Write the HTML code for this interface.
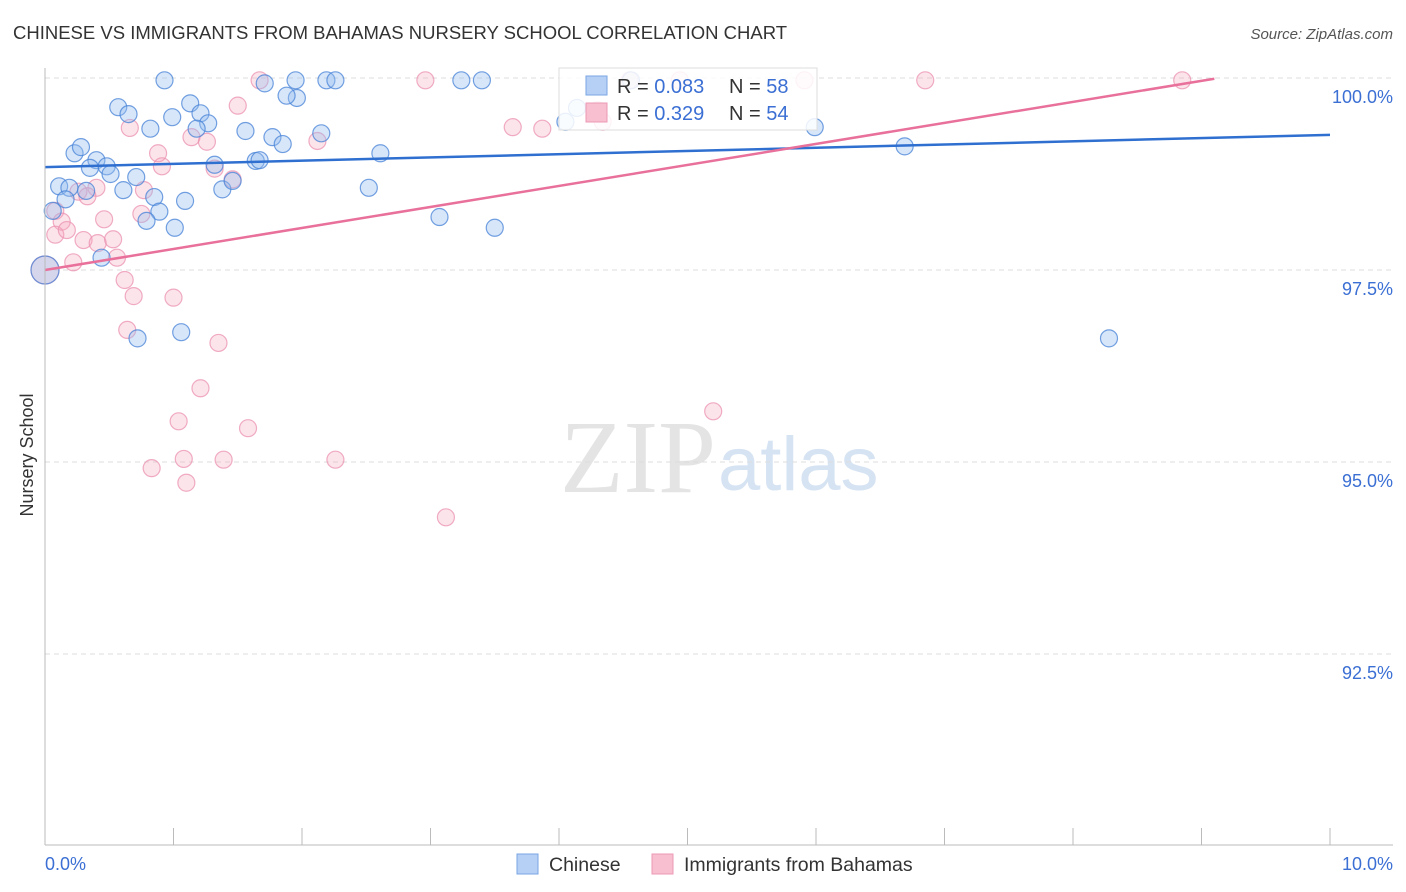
<!DOCTYPE html>
<html><head><meta charset="utf-8"><style>
body{margin:0;background:#fff;font-family:"Liberation Sans",sans-serif;}
svg{display:block}
</style></head><body>
<svg id="chart" width="1406" height="892">
<text x="13" y="39" font-size="18.5" fill="#333">CHINESE VS IMMIGRANTS FROM BAHAMAS NURSERY SCHOOL CORRELATION CHART</text>
<text x="1393" y="39" font-size="15" fill="#555" font-style="italic" text-anchor="end">Source: ZipAtlas.com</text>
<text x="716" y="492" font-size="104" fill="#e4e4e4" text-anchor="end" font-family="Liberation Serif,serif">ZIP</text>
<text x="718" y="490" font-size="76" fill="#d6e3f3">atlas</text>
<text transform="translate(33,455) rotate(-90)" font-size="18" fill="#333" text-anchor="middle">Nursery School</text>
<g id="grid"></g><g id="ticks"></g><g id="pts"></g><g id="lines"></g>
<line x1="45" y1="68" x2="45" y2="845" stroke="#bbb"/>
<line x1="45" y1="845" x2="1393" y2="845" stroke="#bbb"/>
<text x="45" y="870" font-size="18" fill="#3b6fd4">0.0%</text>
<text x="1393" y="870" font-size="18" fill="#3b6fd4" text-anchor="end">10.0%</text>
<g>
<rect x="559" y="68" width="258" height="62" fill="#fff" fill-opacity="0.85" stroke="#ddd"/>
<rect x="586" y="76" width="21" height="19" fill="#b5cff5" stroke="#7aa5e3"/>
<rect x="586" y="103" width="21" height="19" fill="#f8bfd0" stroke="#ec9ab5"/>
<text x="617" y="93" font-size="20" fill="#333">R = <tspan fill="#3b6fd4">0.083</tspan></text>
<text x="729" y="93" font-size="20" fill="#333">N = <tspan fill="#3b6fd4">58</tspan></text>
<text x="617" y="120" font-size="20" fill="#333">R = <tspan fill="#3b6fd4"> 0.329</tspan></text>
<text x="729" y="120" font-size="20" fill="#333">N = <tspan fill="#3b6fd4">54</tspan></text>
</g>
<g><rect x="517" y="854" width="21" height="20" fill="#b5cff5" stroke="#7aa5e3"/><text x="549" y="871" font-size="19.5" fill="#333">Chinese</text></g>
<g><rect x="652" y="854" width="21" height="20" fill="#f8bfd0" stroke="#ec9ab5"/><text x="684" y="871" font-size="19.5" fill="#333">Immigrants from Bahamas</text></g>
</svg>
<script>
const yTicks=[100,97.5,95,92.5];
const yTickLabels=["100.0%","97.5%","95.0%","92.5%"];
const xTicks=[0,1,2,3,4,5,6,7,8,9,10];
const blueX=[0.93,1.71,1.95,2.19,2.26,3.24,3.40,4.56,0.57,0.65,1.13,0.99,1.21,1.27,1.18,0.82,1.56,1.77,1.85,2.15,1.96,1.88,0.23,0.28,0.40,0.35,0.48,0.51,0.71,0.11,0.19,0.32,0.16,0.06,0.61,0.85,0.89,0.79,1.09,1.01,1.32,1.38,1.46,1.64,1.67,2.52,2.61,3.07,3.50,0.44,0.72,1.06,5.99,6.69,8.28,4.14,4.05,0.0];
const blueY=[99.97,99.93,99.97,99.97,99.97,99.97,99.97,99.97,99.62,99.53,99.67,99.49,99.54,99.41,99.34,99.34,99.31,99.23,99.14,99.28,99.74,99.77,99.02,99.10,98.93,98.83,98.85,98.75,98.71,98.59,98.57,98.53,98.42,98.27,98.54,98.45,98.26,98.14,98.40,98.05,98.87,98.55,98.66,98.92,98.93,98.57,99.02,98.19,98.05,97.66,96.61,96.69,99.36,99.11,96.61,99.61,99.43,97.50];
const pinkX=[1.67,2.96,4.55,4.94,5.91,6.85,8.85,1.50,0.66,0.88,0.91,1.14,1.26,1.46,1.32,0.77,0.40,0.26,0.33,0.08,0.13,0.08,0.17,0.22,0.30,0.41,0.46,0.53,0.56,0.62,0.69,0.64,0.75,1.00,1.35,1.21,1.04,1.58,0.83,1.08,1.10,1.39,2.26,3.12,5.20,2.12,3.64,3.87,4.34,4.30,0.0];
const pinkY=[99.97,99.97,99.97,99.97,99.97,99.97,99.97,99.64,99.35,99.02,98.85,99.23,99.17,98.68,98.82,98.54,98.57,98.52,98.46,98.27,98.13,97.96,98.02,97.60,97.89,97.85,98.16,97.90,97.66,97.37,97.16,96.72,98.23,97.14,96.55,95.96,95.53,95.44,94.92,95.04,94.73,95.03,95.03,94.28,95.66,99.18,99.36,99.34,99.43,99.58,97.50];
const blueTrend=[98.84,99.26];
const pinkTrend=[97.50,99.99,9.1];
const NS="http://www.w3.org/2000/svg";
const xs=v=>45+v*128.5, ys=v=>78+(100-v)*76.8;
function mk(t,a,p){const e=document.createElementNS(NS,t);for(const k in a)e.setAttribute(k,a[k]);p.appendChild(e);return e;}
const grid=document.getElementById('grid'),ticks=document.getElementById('ticks'),pts=document.getElementById('pts'),lines=document.getElementById('lines');
yTicks.forEach((t,i)=>{
 const l=mk('line',{x1:45,x2:1393,y1:ys(t),y2:ys(t),stroke:'#ddd','stroke-dasharray':'5,4'},grid);
 
 
 const tx=mk('text',{x:1393,y:ys(t)+25,'font-size':18,fill:'#3b6fd4','text-anchor':'end'},grid);
 tx.textContent=yTickLabels[i];
 
 
});
xTicks.forEach(t=>{
 const l=mk('line',{x1:xs(t),x2:xs(t),y1:828,y2:845,stroke:'#bbb'},ticks);
 
 
});
function draw(X,Y,fill,stroke,name){
 X.forEach((x,i)=>{
  const big=(x===0&&Y[i]===97.5);
  const c=mk('circle',{cx:xs(x),cy:ys(Y[i]),r:big?14:8.5,fill:fill,stroke:stroke,'stroke-width':1.2},pts);
  
  
 });
}
draw(pinkX,pinkY,'rgba(245,165,190,0.3)','rgba(235,146,176,0.75)','bahamas-point');
draw(blueX,blueY,'rgba(150,190,240,0.38)','rgba(70,130,215,0.75)','chinese-point');
const bl=mk('line',{x1:xs(0),y1:ys(blueTrend[0]),x2:xs(10),y2:ys(blueTrend[1]),stroke:'#2f6fd0','stroke-width':2.5},lines);


const pl=mk('line',{x1:xs(0),y1:ys(pinkTrend[0]),x2:xs(pinkTrend[2]),y2:ys(pinkTrend[1]),stroke:'#e8709a','stroke-width':2.5},lines);


</script>
</body></html>
